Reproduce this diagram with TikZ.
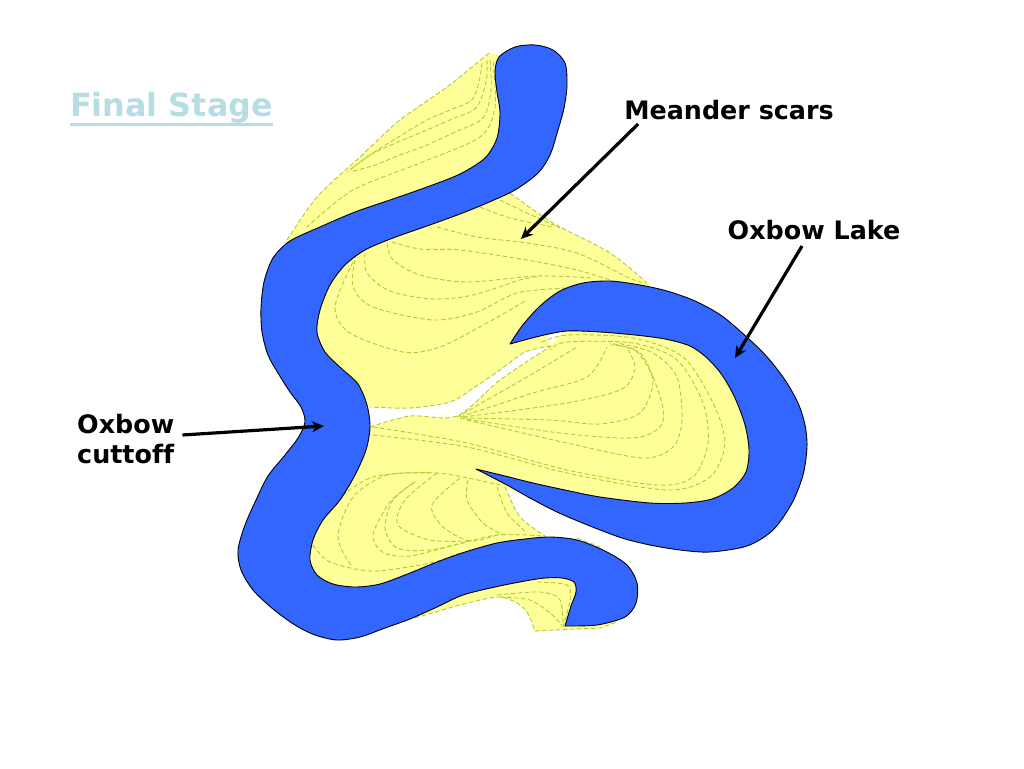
\documentclass[tikz,border=0pt]{standalone}
\usepackage{fontspec}
\setmainfont[Ligatures=NoCommon]{DejaVu Sans}
\usetikzlibrary{arrows.meta}
\definecolor{riverblue}{HTML}{3366FF}
\definecolor{scaryellow}{HTML}{FFFF99}
\definecolor{scargreen}{HTML}{AECB3A}
\definecolor{titleblue}{HTML}{B7DDE4}
\tikzset{
    river/.style={fill=riverblue,draw=black,line width=0.9pt,line join=round},
    land/.style={fill=scaryellow},
    scar/.style={draw=scargreen,line width=0.9pt,dash pattern=on 4.5pt off 2.5pt},
    callout/.style={font=\bfseries\fontsize{25.4}{29.5}\selectfont,inner sep=0pt,align=left,text=black},
    pointer/.style={line width=3.2pt,-{Stealth[length=12pt,width=11pt]}}
}
\begin{document}
\begin{tikzpicture}[x=1pt,y=-1pt]
        \useasboundingbox (0,0) rectangle (1024,768);
        \fill[white] (0,0) rectangle (1024,768);

        % Land
        \path[land] plot[smooth] coordinates {(489,53) (447,87) (400,120) (360,157) (317,197) (285,243)}
            -- (340,235) -- (505,165) -- (525,60) -- cycle;
        \path[land] plot[smooth] coordinates {(510,193) (553,223) (610,253) (647,283)}
            -- (660,296) -- (600,300) -- (540,325)
            -- plot[smooth] coordinates {(551,346) (525,352) (500,370) (475,387) (450,402) (410,408) (370,407)}
            -- (345,400) -- (295,320) -- (300,290) -- (345,240) -- (500,175) -- (515,175) -- cycle;
        \path[land] plot[smooth] coordinates {(370,427) (410,416) (457,416) (500,380) (551,346)}
            -- (575,318) -- (650,312) -- (720,340) -- (775,420) -- (775,470) -- (700,525) -- (650,522) -- (530,497)
            -- plot[smooth] coordinates {(505,487) (520,517) (545,536)}
            -- (545,550) -- (500,565) -- (440,580) -- (340,610) -- (285,570) -- (290,540) -- (300,490) -- (345,440) -- cycle;
        \path[land] plot[smooth] coordinates {(415,618) (460,605) (497,597) (515,602) (527,612) (535,631)}
            -- (575,629) -- (600,628) -- (617,622) -- (600,600) -- (550,565) -- (450,580) -- cycle;

        % Land edges
        \draw[scar] plot[smooth] coordinates {(489,53) (447,87) (400,120) (360,157) (317,197) (285,243)};
        \draw[scar] plot[smooth] coordinates {(510,193) (553,223) (610,253) (647,283)};
        \draw[scar] plot[smooth] coordinates {(551,346) (525,352) (500,370) (475,387) (450,402) (410,408) (370,407)};
        \draw[scar] plot[smooth] coordinates {(370,427) (410,416) (457,416) (500,380) (551,346)};
        \draw[scar] plot[smooth] coordinates {(505,487) (520,517) (545,536)};
        \draw[scar] plot[smooth] coordinates {(415,618) (460,605) (497,597) (515,602) (527,612) (535,631)};
        \draw[scar] (535,631) -- (575,629) -- (600,628) -- (617,622);

        % Scars, top
        \draw[scar] plot[smooth] coordinates {(482,63) (479,82) (472,100) (450,110) (427,120) (400,136) (373,153) (347,172)};
        \draw[scar] plot[smooth] coordinates {(487,60) (486,82) (476,108) (452,119) (427,130) (398,142) (370,155) (350,170)};
        \draw[scar] plot[smooth] coordinates {(490,60) (491,90) (483,118) (455,132) (427,145) (400,155) (375,165) (350,172)};
        \draw[scar] plot[smooth] coordinates {(493,62) (495,107) (480,137) (420,163) (353,190) (307,227)};

        % Scars, centre
        \draw[scar] plot[smooth] coordinates {(500,200) (527,213) (560,228)};
        \draw[scar] plot[smooth] coordinates {(480,207) (510,218) (553,227)};
        \draw[scar] plot[smooth] coordinates {(437,227) (477,237) (527,243) (577,253) (627,277) (643,283)};
        \draw[scar] plot[smooth] coordinates {(392,242) (420,249) (460,250) (527,260) (577,270) (610,280)};
        \draw[scar] plot[smooth] coordinates {(387,243) (393,260) (420,275) (467,282) (537,276) (593,278)};
        \draw[scar] plot[smooth] coordinates {(365,253) (367,273) (390,291) (433,299) (473,295) (520,280) (540,276)};
        \draw[scar] plot[smooth] coordinates {(355,260) (353,287) (373,307) (433,320) (477,312) (517,293) (565,288)};
        \draw[scar] plot[smooth] coordinates {(353,262) (335,307) (350,333) (403,352) (440,347) (487,323) (527,300)};

        % Scars, lake
        \draw[scar] plot[smooth] coordinates {(457,417) (527,377) (577,347)};
        \draw[scar] plot[smooth] coordinates {(460,417) (533,393) (587,377) (607,347)};
        \draw[scar] plot[smooth] coordinates {(463,417) (567,403) (622,389) (635,368) (628,350)};
        \draw[scar] plot[smooth] coordinates {(463,418) (550,420) (600,424) (640,413) (653,380) (635,350) (610,345)};
        \draw[scar] plot[smooth] coordinates {(460,418) (560,433) (633,438) (660,427) (663,408) (653,377) (640,353) (610,343)};
        \draw[scar] plot[smooth] coordinates {(467,420) (567,443) (643,458) (673,447) (682,420) (677,377) (653,353) (617,343)};
        \draw[scar] plot[smooth] coordinates {(373,427) (467,443) (567,470) (657,485) (693,477) (708,443) (703,403) (677,360) (633,343) (567,342) (550,350)};
        \draw[scar] plot[smooth] coordinates {(373,435) (467,447) (567,473) (667,490) (710,477) (725,443) (713,403) (683,357) (633,338) (567,335) (540,343)};

        % Scars, lower left
        \draw[scar] plot[smooth] coordinates {(337,500) (373,477) (437,473) (500,485)};
        \draw[scar] plot[smooth] coordinates {(430,473) (387,475) (353,497) (338,537) (352,567)};
        \draw[scar] plot[smooth] coordinates {(313,545) (330,562) (373,571) (430,563) (463,552)};
        \draw[scar] plot[smooth] coordinates {(413,483) (390,502) (373,535) (384,553) (410,556) (447,547) (497,535) (543,536)};
        \draw[scar] plot[smooth] coordinates {(415,482) (393,500) (385,528) (397,548) (430,550) (470,541)};
        \draw[scar] plot[smooth] coordinates {(437,473) (405,500) (398,525) (430,540) (470,541)};
        \draw[scar] plot[smooth] coordinates {(460,478) (432,505) (443,527) (470,541) (497,535)};
        \draw[scar] plot[smooth] coordinates {(468,480) (467,500) (483,523) (503,535)};
        \draw[scar] plot[smooth] coordinates {(497,487) (507,513) (527,533)};
        \draw[scar] plot[smooth] coordinates {(577,538) (600,547)};

        % Scars, bottom
        \draw[scar] plot[smooth] coordinates {(497,595) (540,592) (560,600) (563,627)};
        \draw[scar] plot[smooth] coordinates {(500,597) (530,600) (550,613) (562,625)};
        \draw[scar] plot[smooth] coordinates {(537,582) (567,585) (570,600) (563,627)};

        % River
        \path[river] plot[smooth] coordinates {(565,626) (571,606) (576,592) (574,582) (562,578) (545,578) (525,581) (495,587) (463,595) (437,607) (410,619) (385,628) (360,637) (337,640) (315,635) (295,625) (273,609) (253,590) (241,570) (238,550) (245,525) (256,500) (268,476) (285,455) (298,438) (305,422) (301,407) (290,392) (278,373) (268,355) (262,332) (261,308) (264,282) (273,258) (290,241) (320,227) (355,212) (390,200) (427,187) (460,174) (485,158) (497,138) (500,113) (497,92) (495,72) (499,57) (515,47) (535,45) (553,50) (565,63) (567,85) (564,108) (558,130) (550,155) (538,173) (515,190) (487,203) (460,214) (427,226) (393,238) (365,250) (345,265) (330,285) (320,310) (317,332) (325,352) (342,369) (358,384) (367,405) (370,427) (366,450) (355,475) (340,500) (323,520) (313,540) (310,560) (317,575) (333,584) (355,587) (380,584) (410,573) (437,562) (465,552) (497,543) (525,539) (550,537) (577,540) (605,551) (627,565) (637,583) (636,603) (625,617) (597,625) (565,626)} -- cycle;

        % Oxbow lake
        \path[river] plot[smooth] coordinates {(510,344) (522,326) (540,306) (560,291) (583,283) (610,281) (640,285) (667,291) (695,301) (722,316) (750,340) (768,358) (785,380) (798,403) (805,425) (807,447) (803,475) (792,503) (773,530) (747,546) (710,552) (680,550) (650,545) (622,538) (590,526) (557,512) (530,498) (507,485) (476,469)}
            -- plot[smooth] coordinates {(476,469) (505,476) (533,483) (565,490) (600,497) (650,503) (685,503) (712,499) (733,488) (746,472) (749,450) (745,425) (735,398) (722,375) (707,358) (690,346) (665,339) (635,335) (600,332) (567,331) (540,336) (510,344)} -- cycle;

        % Labels
        \node[anchor=west,inner sep=0pt,text=titleblue,font=\bfseries\fontsize{31.8}{38}\selectfont] (title) at (70,108) {Final Stage};
        \draw[titleblue,line width=3pt] (title.south west) ++(0,1) -- ([yshift=-1pt]title.south east);
        \node[callout,anchor=center] (scars) at (729,110) {Meander scars};
        \node[callout,anchor=center] (lake) at (814,230) {Oxbow Lake};
        \node[callout,anchor=west] (cutoff) at (77,439) {Oxbow\\cuttoff};

        \coordinate (scarstip) at (521,239);
        \coordinate (laketip) at (735,358);
        \coordinate (cutofftip) at (324,426);
        \draw[pointer] (scars.south west) ++(14,4) -- (scarstip);
        \draw[pointer] (lake.south) ++(-12,6) -- (laketip);
        \draw[pointer] (cutoff.east) ++(8,-4) -- (cutofftip);
    \end{tikzpicture}
\end{document}
